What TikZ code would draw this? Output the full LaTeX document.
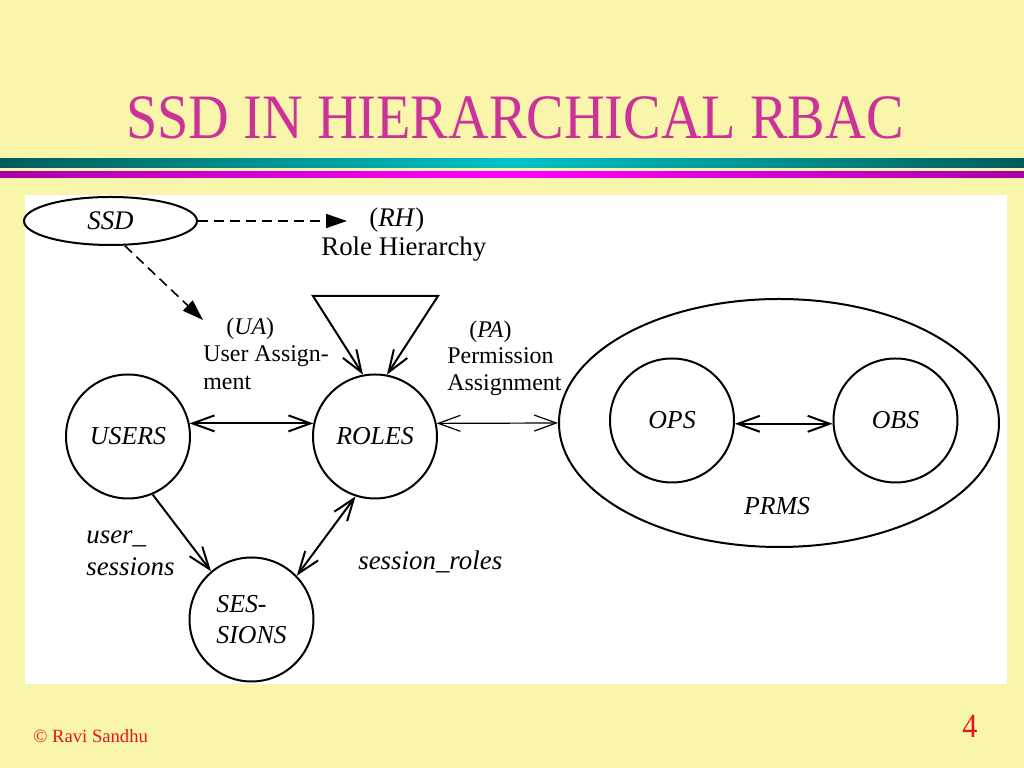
\documentclass[tikz,border=0pt]{standalone}
\usepackage{fontspec}
\setmainfont{Liberation Serif}
\newfontfamily\titlefont[FakeStretch=0.89]{Liberation Serif}
\usepackage{tikz}
\usetikzlibrary{arrows.meta}
\usetikzlibrary{shapes.geometric}
\definecolor{paleyellow}{RGB}{249,245,171}
\definecolor{darkteal}{RGB}{0,92,92}
\definecolor{lightteal}{RGB}{0,196,196}
\definecolor{darkmagenta}{RGB}{168,0,168}
\definecolor{lightmagenta}{RGB}{255,0,255}
\definecolor{titlepink}{RGB}{204,51,153}
\definecolor{footred}{RGB}{230,20,30}

\begin{document}
\begin{tikzpicture}[
    vbarb/.tip={Straight Barb[length=0.44cm,width=0.32cm]},
    fillhead/.tip={Triangle[length=0.42cm,width=0.28cm]},
    state/.style={circle, draw, line width=0.040cm, minimum size=2.48cm, inner sep=0pt, align=left, font=\fontsize{14.7}{17.5}\selectfont\itshape},
    oval/.style={ellipse, draw, line width=0.040cm, inner sep=0pt},
    lbl/.style={inner sep=0pt, align=left, font=\fontsize{13.6}{15.6}\selectfont},
    itlbl/.style={inner sep=0pt, align=left, font=\fontsize{15.3}{18.1}\selectfont\itshape},
    dbl/.style={line width=0.040cm, {vbarb}-{vbarb}},
    sgl/.style={line width=0.040cm, -{vbarb}},
    dsh/.style={line width=0.032cm, dash pattern=on 0.2cm off 0.12cm, -{fillhead}}
]
    \useasboundingbox (0,0) rectangle (20.480000,15.360000);

    % Drawing slide background
    \fill [paleyellow] (0,0) rectangle (20.480000,15.360000);%
    \shade [left color=darkteal, right color=darkteal, middle color=lightteal] (0,12.000000) rectangle (20.480000,12.180000);%
    \shade [left color=darkmagenta, right color=darkmagenta, middle color=lightmagenta] (0,11.800000) rectangle (20.480000,11.920000);%
    \fill [white] (0.500000,1.680000) rectangle (20.140000,11.460000);%
    \draw (10.300000,12.580000) node [anchor=base, inner sep=0pt, text=titlepink, font=\titlefont\fontsize{36}{40}\selectfont] (title) {SSD IN HIERARCHICAL RBAC};%
    \draw (0.660000,0.500000) node [anchor=base west, inner sep=0pt, text=footred, font=\fontsize{10.6}{12}\selectfont] (copyright) {© Ravi Sandhu};%
    \draw (19.400000,0.600000) node [anchor=base, inner sep=0pt, text=footred, font=\titlefont\fontsize{19.3}{22}\selectfont] (pagenum) {4};%

    % Drawing the sets
    \draw (2.210000,10.940000) node [oval, minimum width=3.46cm, minimum height=0.96cm, font=\fontsize{15.3}{17}\selectfont\itshape] (ssd) {SSD};%
    \draw (2.560000,6.630000) node [state] (users) {USERS};%
    \draw (7.500000,6.630000) node [state] (roles) {ROLES};%
    \draw (5.030000,2.970000) node [state] (sessions) {SES-\\SIONS};%
    \draw (15.580000,6.900000) node [oval, minimum width=8.80cm, minimum height=4.96cm] (prms) {};%
    \draw (13.440000,6.950000) node [state] (ops) {OPS};%
    \draw (17.910000,6.950000) node [state] (obs) {OBS};%
    \draw (15.540000,5.060000) node [anchor=base, inner sep=0pt, font=\fontsize{14.7}{17}\selectfont\itshape] (prmslbl) {PRMS};%

    % Drawing the relation labels
    \draw (6.420000,11.200000) node [lbl, anchor=north west, font=\fontsize{15.3}{16.4}\selectfont] (rhlbl) {\hspace*{0.96cm}(\textit{RH})\\Role Hierarchy};%
    \draw (4.060000,9.010000) node [lbl, anchor=north west] (ualbl) {\hspace*{0.46cm}(\textit{UA})\\User Assign-\\ment};%
    \draw (8.940000,8.950000) node [lbl, anchor=north west, font=\fontsize{13.6}{15}\selectfont] (palbl) {\hspace*{0.44cm}(\textit{PA})\\Permission\\Assignment};%
    \draw (1.720000,4.750000) node [itlbl, anchor=north west] (uslbl) {user\_\\sessions};%
    \draw (7.160000,3.960000) node [itlbl, anchor=base west] (srlbl) {session\_roles};%

    % Drawing the connectors
    \coordinate (rh) at (6.940000,10.940000);%
    \coordinate (ua) at (4.060000,8.960000);%
    \coordinate (rhl) at (6.260000,9.440000);%
    \coordinate (rhr) at (8.760000,9.440000);%
    \draw [dsh] (ssd.east) -- (rh);%
    \draw [dsh] (ssd.-60) -- (ua);%
    \draw [dbl] (roles.101) -- (rhl) -- (rhr) -- (roles.79);%
    \draw [dbl] (users.12) -- (roles.168);%
    \draw [dbl, line width=0.024cm] (roles.12) -- (prms.west);%
    \draw [dbl] (ops.-3) -- (obs.183);%
    \draw [sgl] (users.-67) -- (sessions.130);%
    \draw [dbl] (sessions.44) -- (roles.-108);%
\end{tikzpicture}
\end{document}
